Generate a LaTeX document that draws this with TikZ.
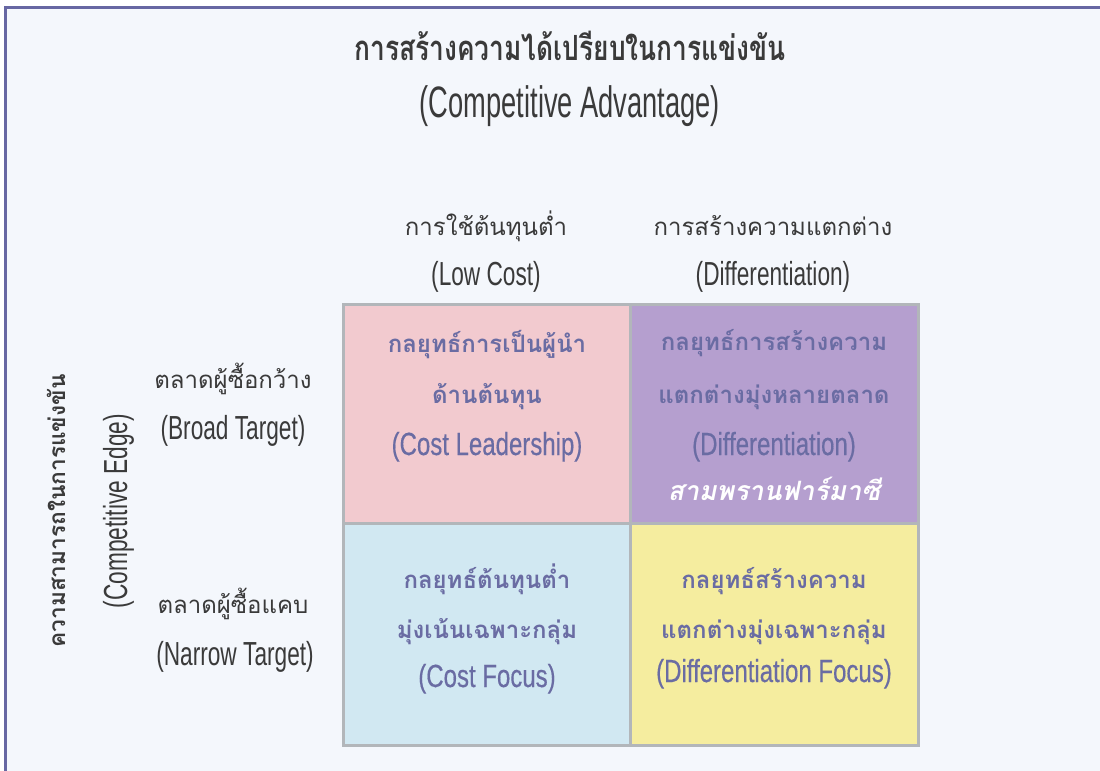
\documentclass[tikz,border=0pt]{standalone}
\usepackage{fontspec}
\newfontfamily\thai[Script=Thai]{Loma}
\newfontfamily\thaic[Script=Thai,FakeStretch=0.76]{Loma}
\newfontfamily\thaisl[Script=Thai,FakeSlant=0.2]{Loma}
\newfontfamily\cond[FakeStretch=0.62]{Liberation Sans}
\newfontfamily\condh[FakeStretch=0.68]{Liberation Sans}
\newfontfamily\condb[FakeStretch=0.75,FakeBold=0.4]{Liberation Sans}
\definecolor{bgc}{HTML}{F4F7FC}
\definecolor{framec}{HTML}{6767A3}
\definecolor{gridc}{HTML}{B2B6BA}
\definecolor{pinkc}{HTML}{F2CACF}
\definecolor{purplec}{HTML}{B59FCF}
\definecolor{bluec}{HTML}{D1E8F2}
\definecolor{yellowc}{HTML}{F5ED9F}
\definecolor{boxtext}{HTML}{6A6CA3}
\definecolor{headtext}{HTML}{3A3A3A}
\tikzset{
  cell/.style={draw=gridc, line width=2.25pt, inner sep=0pt},
  titleth/.style={anchor=base, text=headtext, font=\thaic\bfseries\fontsize{26}{30}\selectfont},
  titleen/.style={anchor=base, text=headtext, font=\cond\fontsize{33}{38}\selectfont},
  headth/.style={anchor=base, text=headtext, font=\thai\fontsize{18}{22}\selectfont},
  headen/.style={anchor=base, text=headtext, font=\condh\fontsize{25}{29}\selectfont},
  vertth/.style={anchor=base, text=headtext, font=\thai\bfseries\fontsize{17}{21}\selectfont},
  boxth/.style={anchor=base, text=boxtext, font=\thai\bfseries\fontsize{18}{22}\selectfont},
  boxen/.style={anchor=base, text=boxtext, font=\condb\fontsize{24}{28}\selectfont},
  boxsl/.style={anchor=base, text=white, font=\thaisl\bfseries\fontsize{20}{24}\selectfont},
}
\begin{document}
\begin{tikzpicture}[x=0.75pt,y=-0.75pt]
\fill[white] (0,0) rectangle (1100,771);
\useasboundingbox (0,0) rectangle (1100,771);
\fill[bgc] (6,8) rectangle (1100,771);
\draw[framec, line width=2.25pt] (5.5,771) -- (5.5,7.5) -- (1100,7.5);

% title
\node[titleth] (t1) at (570,60) {การสร้างความได้เปรียบในการแข่งขัน};
\node[titleen] (t2) at (570,117) {(Competitive Advantage)};

% column headers
\node[headth] (h1) at (486,235) {การใช้ต้นทุนต่ำ};
\node[headen] (h2) at (486,285) {(Low Cost)};
\node[headth] (h3) at (773,235) {การสร้างความแตกต่าง};
\node[headen] (h4) at (773,285) {(Differentiation)};

% row headers
\node[headth] (r1) at (233,388) {ตลาดผู้ซื้อกว้าง};
\node[headen] (r2) at (233,439) {(Broad Target)};
\node[headth] (r3) at (233,613) {ตลาดผู้ซื้อแคบ};
\node[headen] (r4) at (235,665) {(Narrow Target)};

% vertical labels
\node[vertth, rotate=90] (v1) at (65,511) {ความสามารถในการแข่งขัน};
\node[headen, rotate=90] (v2) at (127,511) {(Competitive Edge)};

% cells
\node[cell, fill=pinkc, minimum width=215.25pt, minimum height=164.25pt] (c11) at (486.5,413.5) {};
\node[cell, fill=purplec, minimum width=216pt, minimum height=164.25pt] (c12) at (774,413.5) {};
\node[cell, fill=bluec, minimum width=215.25pt, minimum height=166.5pt] (c21) at (486.5,634) {};
\node[cell, fill=yellowc, minimum width=216pt, minimum height=166.5pt] (c22) at (774,634) {};

% cell texts
\node[boxth] (a1) at (487,352) {กลยุทธ์การเป็นผู้นำ};
\node[boxth] (a2) at (487,403) {ด้านต้นทุน};
\node[boxen] (a3) at (487,455) {(Cost Leadership)};

\node[boxth] (b1) at (774,350) {กลยุทธ์การสร้างความ};
\node[boxth] (b2) at (774,403) {แตกต่างมุ่งหลายตลาด};
\node[boxen] (b3) at (774,455) {(Differentiation)};
\node[boxsl] (b4) at (774,500) {สามพรานฟาร์มาซี};

\node[boxth] (c1) at (487,588) {กลยุทธ์ต้นทุนต่ำ};
\node[boxth] (c2) at (487,638) {มุ่งเน้นเฉพาะกลุ่ม};
\node[boxen] (c3) at (487,687) {(Cost Focus)};

\node[boxth] (d1) at (774,588) {กลยุทธ์สร้างความ};
\node[boxth] (d2) at (774,638) {แตกต่างมุ่งเฉพาะกลุ่ม};
\node[boxen] (d3) at (774,682) {(Differentiation Focus)};
\end{tikzpicture}
\end{document}
